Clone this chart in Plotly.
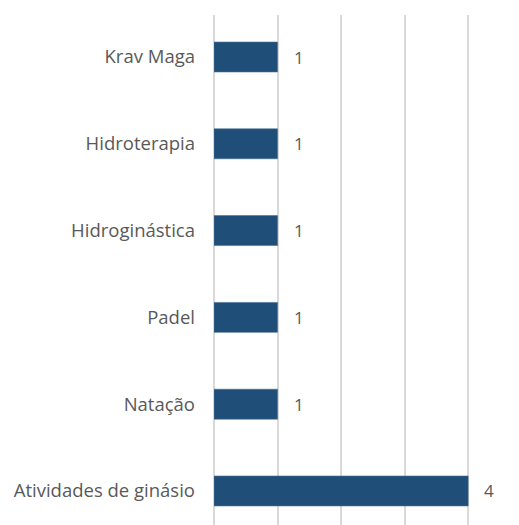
import plotly.graph_objects as go

# Modalidades (de baixo para cima) e número de respostas
categories = ["Atividades de ginásio", "Natação", "Padel", "Hidroginástica", "Hidroterapia", "Krav Maga"]
values = [4, 1, 1, 1, 1, 1]

bar_color = "#1F4E79"
text_color = "#595959"
grid_color = "#D9D9D9"
font_family = "Open Sans"

fig = go.Figure(
    go.Bar(
        x=values,
        y=categories,
        orientation="h",
        marker=dict(color=bar_color, line=dict(color="#4A6F94", width=0.6)),
        hoverinfo="x+y",
    )
)

# Value labels to the right of each bar
for cat, val in zip(categories, values):
    fig.add_annotation(
        x=val, y=cat, text=str(val), showarrow=False,
        xanchor="left", xshift=14,
        font=dict(family=font_family, size=17, color=text_color),
    )

fig.update_layout(
    width=519,
    height=525,
    margin=dict(l=214, r=0, t=15, b=0),
    paper_bgcolor="white",
    plot_bgcolor="white",
    bargap=0.655,
    showlegend=False,
    font=dict(family=font_family, size=18, color=text_color),
    xaxis=dict(
        range=[0, 4.8],
        dtick=1,
        showgrid=True,
        gridcolor=grid_color,
        gridwidth=1.5,
        zeroline=True,
        zerolinecolor=grid_color,
        zerolinewidth=1.5,
        showticklabels=False,
        showline=False,
        fixedrange=True,
    ),
    yaxis=dict(
        categoryorder="array",
        categoryarray=categories,
        range=[-0.392, 5.484],
        showgrid=False,
        showline=False,
        ticks="",
        ticklabelstandoff=18,
        tickfont=dict(family=font_family, size=18.5, color=text_color),
        fixedrange=True,
    ),
)

fig.write_html("out.html")
